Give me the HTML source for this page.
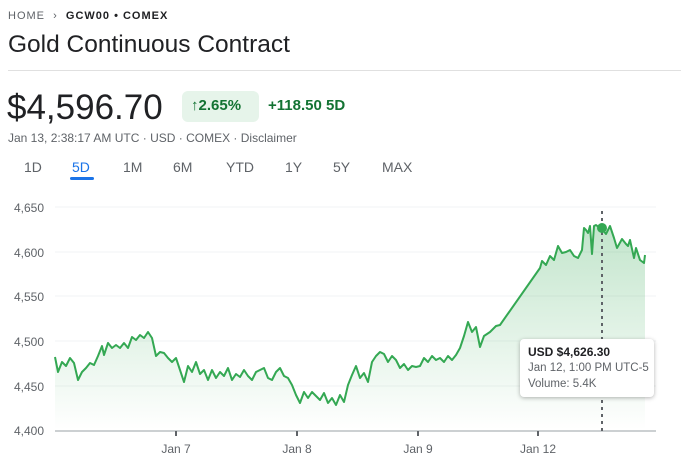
<!DOCTYPE html><html><head><style>
body{margin:0;width:681px;height:466px;background:#fff;font-family:"Liberation Sans",sans-serif;position:relative;overflow:hidden}
.a{position:absolute;white-space:nowrap}
</style></head><body>
<div class="a" style="left:8px;top:10px;font-size:11px;letter-spacing:1px;color:#5f6368">HOME &nbsp;›&nbsp; <span style="color:#202124;font-weight:bold">GCW00 • COMEX</span></div>
<div class="a" style="left:8px;top:31px;font-size:24.5px;color:#202124">Gold Continuous Contract</div>
<div class="a" style="left:8px;top:70px;width:673px;height:1px;background:#e0e0e0"></div>
<div class="a" style="left:7px;top:88px;font-size:35px;color:#202124">$4,596.70</div>
<div class="a" style="left:182px;top:91px;width:77px;height:31px;background:#e6f4ea;border-radius:6px"></div>
<div class="a" style="left:191px;top:97px;font-size:15px;color:#137333;font-weight:bold">↑2.65%</div>
<div class="a" style="left:268px;top:97px;font-size:15px;color:#137333;font-weight:bold">+118.50 5D</div>
<div class="a" style="left:8px;top:131px;font-size:12px;color:#5f6368">Jan 13, 2:38:17 AM UTC · USD · COMEX · Disclaimer</div>
<div class="a" style="top:159px;font-size:14px;color:#5f6368;left:0;width:681px">
<span class="a" style="left:24px">1D</span><span class="a" style="left:72px;color:#1a73e8">5D</span><span class="a" style="left:123px">1M</span><span class="a" style="left:173px">6M</span><span class="a" style="left:226px">YTD</span><span class="a" style="left:285px">1Y</span><span class="a" style="left:333px">5Y</span><span class="a" style="left:382px">MAX</span></div>
<div class="a" style="left:70px;top:177px;width:24px;height:3px;background:#1a73e8;border-radius:2px"></div>
<svg class="a" style="left:0;top:0" width="681" height="466">
<defs><linearGradient id="g" x1="0" y1="0" x2="0" y2="1"><stop offset="0" stop-color="#34a853" stop-opacity="0.3"/><stop offset="1" stop-color="#34a853" stop-opacity="0"/></linearGradient></defs>
<g stroke="#f1f3f4" stroke-width="1"><line x1="55" x2="656" y1="207" y2="207"/><line x1="55" x2="656" y1="252" y2="252"/><line x1="55" x2="656" y1="296" y2="296"/><line x1="55" x2="656" y1="341" y2="341"/><line x1="55" x2="656" y1="386" y2="386"/></g>
<g font-size="12" fill="#5f6368"><text x="14" y="212">4,650</text><text x="14" y="257">4,600</text><text x="14" y="301">4,550</text><text x="14" y="346">4,500</text><text x="14" y="391">4,450</text><text x="14" y="435">4,400</text>
<text x="176" y="453" text-anchor="middle">Jan 7</text><text x="297" y="453" text-anchor="middle">Jan 8</text><text x="418" y="453" text-anchor="middle">Jan 9</text><text x="538" y="453" text-anchor="middle">Jan 12</text></g>
<polygon fill="url(#g)" points="55,430 55,357 58,372 62,362 66,366 70,358 74,363 78,380 82,372 86,368 90,363 94,365 98,356 102,346 104,355 108,343 112,348 116,345 120,348 124,343 128,348 132,337 136,340 140,335 144,338 148,332 152,338 156,356 160,352 164,353 168,358 172,362 176,358 180,370 184,382 188,366 192,372 196,362 200,374 204,370 208,380 212,370 216,378 220,372 224,376 228,368 232,380 236,374 240,377 244,370 248,376 252,380 256,372 260,370 264,368 268,378 272,380 276,372 280,368 284,376 288,378 292,385 296,395 300,403 304,392 308,398 312,392 316,396 320,400 324,393 328,403 332,398 336,405 340,395 344,402 348,385 352,375 356,366 360,378 364,373 368,382 372,362 376,356 380,352 384,354 388,362 392,356 396,360 400,368 404,364 408,370 412,366 416,367 420,366 424,358 428,362 432,356 436,360 440,358 444,362 448,356 452,360 456,355 460,348 464,336 468,322 472,332 476,327 480,347 484,336 490,332 496,326 500,325 540,268 542,261 546,265 550,256 554,260 558,246 562,253 566,252 570,250 574,256 578,258 582,250 584,228 586,230 588,233 590,226 592,254 594,226 596,225 600,228 602,229 606,234 608,230 610,226 614,238 617,248 622,239 626,244 628,246 630,240 634,258 636,248 640,260 644,263 645,255 645,430"/>
<polyline fill="none" stroke="#34a853" stroke-width="2" stroke-linejoin="round" points="55,357 58,372 62,362 66,366 70,358 74,363 78,380 82,372 86,368 90,363 94,365 98,356 102,346 104,355 108,343 112,348 116,345 120,348 124,343 128,348 132,337 136,340 140,335 144,338 148,332 152,338 156,356 160,352 164,353 168,358 172,362 176,358 180,370 184,382 188,366 192,372 196,362 200,374 204,370 208,380 212,370 216,378 220,372 224,376 228,368 232,380 236,374 240,377 244,370 248,376 252,380 256,372 260,370 264,368 268,378 272,380 276,372 280,368 284,376 288,378 292,385 296,395 300,403 304,392 308,398 312,392 316,396 320,400 324,393 328,403 332,398 336,405 340,395 344,402 348,385 352,375 356,366 360,378 364,373 368,382 372,362 376,356 380,352 384,354 388,362 392,356 396,360 400,368 404,364 408,370 412,366 416,367 420,366 424,358 428,362 432,356 436,360 440,358 444,362 448,356 452,360 456,355 460,348 464,336 468,322 472,332 476,327 480,347 484,336 490,332 496,326 500,325 540,268 542,261 546,265 550,256 554,260 558,246 562,253 566,252 570,250 574,256 578,258 582,250 584,228 586,230 588,233 590,226 592,254 594,226 596,225 600,228 602,229 606,234 608,230 610,226 614,238 617,248 622,239 626,244 628,246 630,240 634,258 636,248 640,260 644,263 645,255"/>
<line x1="55" x2="656" y1="431" y2="431" stroke="#9aa0a6" stroke-width="1"/>
<g stroke="#5f6368" stroke-width="2"><line x1="176" x2="176" y1="431" y2="436"/><line x1="297" x2="297" y1="431" y2="436"/><line x1="418" x2="418" y1="431" y2="436"/><line x1="538" x2="538" y1="431" y2="436"/></g>
<line x1="602" x2="602" y1="211" y2="431" stroke="#5f6368" stroke-width="2" stroke-dasharray="3,4"/>
<circle cx="602" cy="228" r="5" fill="#34a853"/>
</svg>
<div class="a" style="left:520px;top:339px;width:134px;height:58px;background:#fff;border-radius:4px;box-shadow:0 1px 4px rgba(0,0,0,0.3)"></div>
<div class="a" style="left:528px;top:345px;font-size:12px;color:#202124;font-weight:bold">USD $4,626.30</div>
<div class="a" style="left:528px;top:362px;font-size:11.5px;color:#5f6368">Jan 12, 1:00 PM UTC-5</div>
<div class="a" style="left:528px;top:378px;font-size:11.5px;color:#5f6368">Volume: 5.4K</div>
</body></html>
